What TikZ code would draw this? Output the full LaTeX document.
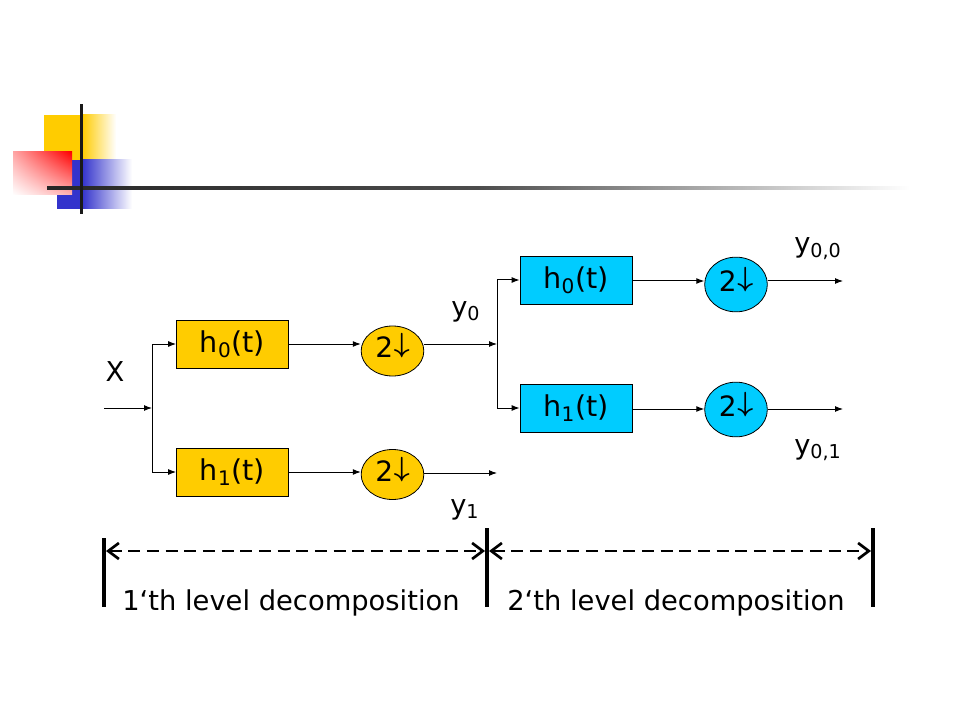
\documentclass[tikz,border=0pt]{standalone}
\usepackage{fontspec}
\setmainfont{DejaVu Sans}
\usetikzlibrary{arrows.meta,shapes.geometric,shadings}
\definecolor{gold}{HTML}{FFCC00}
\definecolor{sky}{HTML}{00CCFF}
\definecolor{decoblue}{HTML}{3333CC}
\newcommand{\dsdown}{\smash{\raisebox{-5.1pt}{2\kern0.5pt\fontsize{19.5}{22}\selectfont\raisebox{0.194em}{\boldmath$\downarrow$}}}}
\tikzset{
  box/.style={draw=black,line width=0.6pt,minimum width=84pt,minimum height=36pt,inner sep=0pt,font=\fontsize{21.5}{25}\selectfont},
  ybox/.style={box,fill=gold},
  bbox/.style={box,fill=sky},
  down/.style={ellipse,draw=black,line width=0.6pt,inner sep=0pt,minimum width=47pt,font=\fontsize{21}{24}\selectfont},
  ydown/.style={down,fill=gold,minimum height=37.5pt},
  bdown/.style={down,fill=sky,minimum height=41pt},
  conn/.style={line width=0.75pt,-{Latex[length=6pt,width=4.5pt]}},
  lbl/.style={inner sep=0pt,font=\fontsize{20.5}{24}\selectfont},
  bar/.style={line width=3pt},
  span/.style={line width=2.2pt,dash pattern=on 9pt off 5pt,{Straight Barb[length=8pt,width=12pt,line width=2pt]}-{Straight Barb[length=8pt,width=12pt,line width=2pt]}}
}
\begin{document}
\begin{tikzpicture}[x=0.75pt,y=-0.75pt]
\useasboundingbox (0,0) rectangle (960,720);
% decoration
\fill[gold] (44,115) rectangle (82,160);
\shade[left color=gold,right color=white] (82,115) rectangle (116,160);
\fill[decoblue] (57,160) rectangle (82,209);
\shade[left color=decoblue,right color=white] (82,160) rectangle (132,209);
\shade[upper right=red,upper left=red!35,lower left=white,lower right=red!30] (13,152) rectangle (72,195);
\shade[left color=black!85,right color=white,middle color=black!70] (47,186.5) rectangle (910,190);
\fill[black!90] (79.5,104) rectangle (82.5,214);
% first level
\coordinate (xin) at (104,408);
\coordinate (j1) at (152,408);
\node[ybox] (h0a) at (232.5,344) {h\textsubscript{0}(t)};
\node[ybox] (h1a) at (232.5,472) {h\textsubscript{1}(t)};
\node[ydown] (d0a) at (392.5,351) {\dsdown};
\node[ydown] (d1a) at (392.5,474.5) {\dsdown};
\coordinate (j2) at (497,344);
\coordinate (y1end) at (497,473);
\draw[conn] (xin) -- (j1);
\draw[conn] (j1) |- (h0a.west);
\draw[conn] (j1) |- (h1a.west);
\draw[conn] (h0a.east) -- (h0a.east -| d0a.west);
\draw[conn] (h1a.east) -- (h1a.east -| d1a.west);
\draw[conn] (d0a.east |- h0a.east) -- (j2);
\draw[conn] (d1a.east |- y1end) -- (y1end);
% second level
\node[bbox] (h0b) at (576,280) {h\textsubscript{0}(t)};
\node[bbox] (h1b) at (576,408) {h\textsubscript{1}(t)};
\node[bdown] (d0b) at (736,284.5) {\dsdown};
\node[bdown] (d1b) at (736,409.5) {\dsdown};
\coordinate (o0) at (843,281);
\coordinate (o1) at (843,409);
\draw[conn] (j2) |- (h0b.west);
\draw[conn] (j2) |- (h1b.west);
\draw[conn] (h0b.east |- o0) -- (o0 -| d0b.west);
\draw[conn] (h1b.east |- o1) -- (o1 -| d1b.west);
\draw[conn] (d0b.east |- o0) -- (o0);
\draw[conn] (d1b.east |- o1) -- (o1);
% labels
\node[lbl] (lx) at (115,372) {X};
\node[lbl,anchor=base west] (ly0) at (451,316) {y\textsubscript{0}};
\node[lbl,anchor=base west] (ly1) at (450,514) {y\textsubscript{1}};
\node[lbl,anchor=base west] (ly00) at (794,253) {y\textsubscript{0,0}};
\node[lbl,anchor=base west] (ly01) at (794,454) {y\textsubscript{0,1}};
% spans
\coordinate (b1t) at (104,538);
\coordinate (b1b) at (104,607);
\coordinate (b2t) at (487,528);
\coordinate (b2b) at (487,607);
\coordinate (b3t) at (873,528);
\coordinate (b3b) at (873,607);
\draw[bar] (b1t) -- (b1b);
\draw[bar] (b2t) -- (b2b);
\draw[bar] (b3t) -- (b3b);
\coordinate (s1) at (106,551);
\coordinate (s2) at (485,551);
\coordinate (s3) at (489,551);
\coordinate (s4) at (871,551);
\draw[span] (s1) -- (s2);
\draw[span] (s3) -- (s4);
\node[lbl,anchor=base] (t1) at (291,610) {1‘th level decomposition};
\node[lbl,anchor=base] (t2) at (676,610) {2‘th level decomposition};
\end{tikzpicture}
\end{document}
